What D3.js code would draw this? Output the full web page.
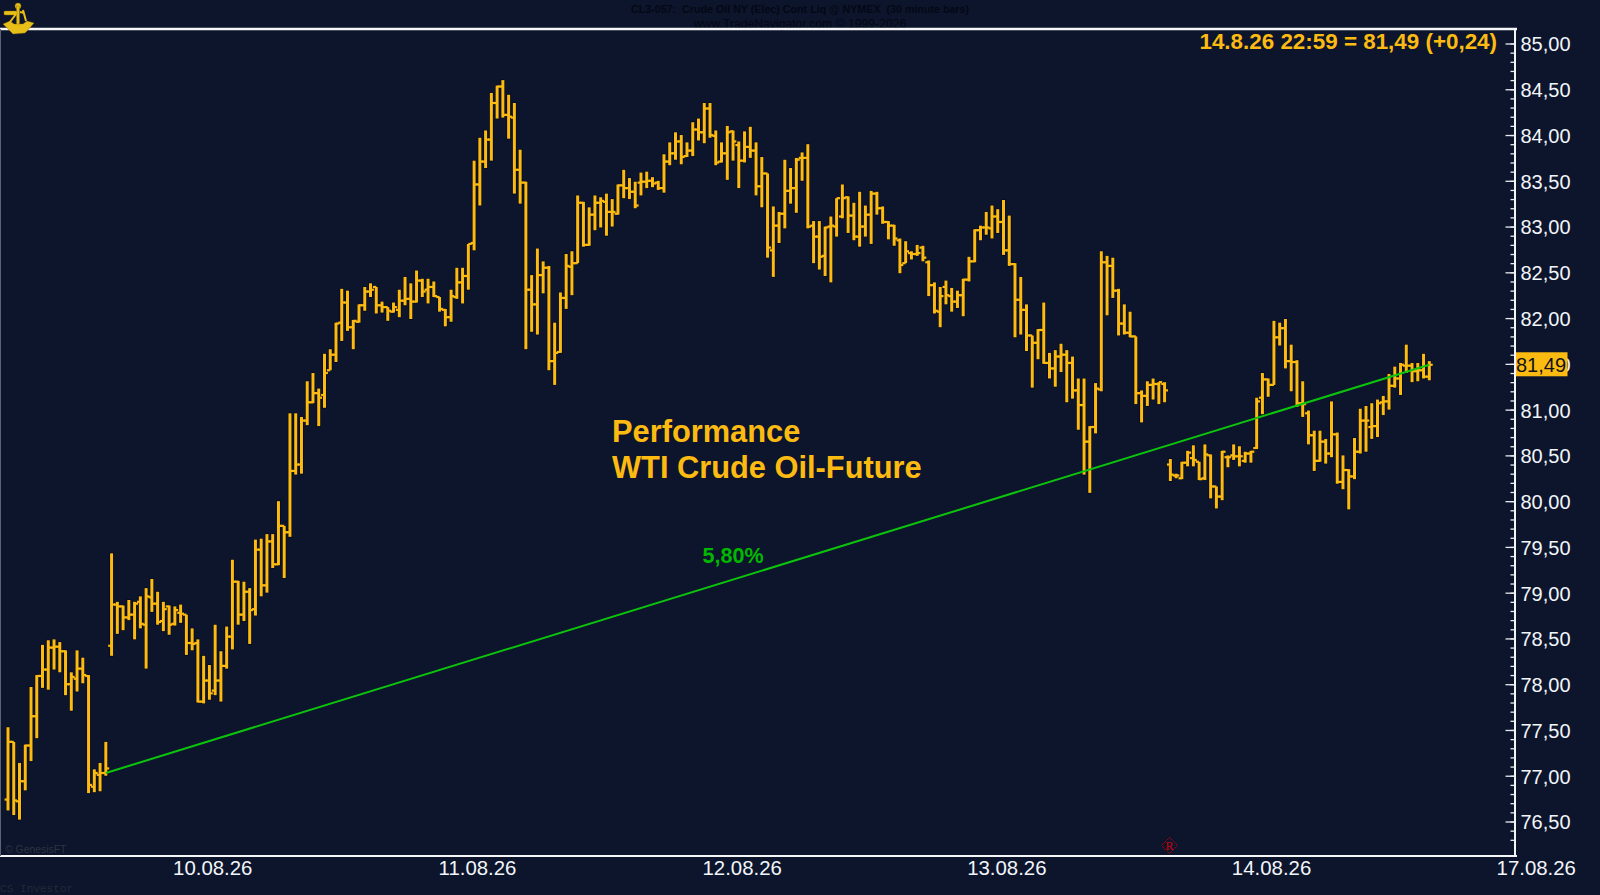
<!DOCTYPE html>
<html>
<head>
<meta charset="utf-8">
<title>WTI Crude Oil-Future</title>
<script src="https://cdn.jsdelivr.net/npm/d3@7"></script>
<style>
    html, body { margin: 0; padding: 0; background: #0c152c; overflow: hidden; }
    svg { display: block; }
    text { font-family: "Liberation Sans", Arial, sans-serif; }
</style>
</head>
<body>
<div id="chart"></div>
<script>
// 30 minute bars
const highs = [
    77.53,77.37,77.14,77.34,77.97,78.10,78.43,78.48,78.49,78.46,
    78.37,78.13,78.37,78.29,78.10,77.07,77.14,77.37,79.43,78.90,
    78.86,78.92,78.90,78.96,79.05,79.15,79.01,78.90,78.86,78.85,
    78.87,78.76,78.61,78.49,78.31,78.21,78.65,78.36,78.63,79.36,
    79.13,79.12,79.05,79.58,79.59,79.64,79.64,80.00,79.73,80.96,
    80.96,80.92,81.31,81.40,81.23,81.61,81.66,81.95,82.32,82.30,
    81.98,82.15,82.34,82.38,82.34,82.18,82.12,82.17,82.31,82.45,
    82.38,82.52,82.43,82.43,82.40,82.23,82.10,82.31,82.55,82.55,
    82.81,83.72,83.97,84.05,84.46,84.54,84.60,84.44,84.35,83.84,
    83.49,82.47,82.76,82.62,82.57,81.95,82.28,82.70,82.73,83.34,
    83.27,83.21,83.34,83.32,83.36,83.30,83.46,83.62,83.53,83.49,
    83.59,83.60,83.54,83.50,83.79,83.92,84.03,84.00,83.92,84.14,
    84.18,84.35,84.35,84.05,83.92,84.10,84.05,83.93,84.04,84.09,
    83.92,83.76,83.58,83.22,83.16,83.73,83.64,83.75,83.81,83.90,
    83.06,83.06,83.00,83.11,83.31,83.46,83.33,83.26,83.38,83.23,
    83.39,83.38,83.22,83.06,83.02,82.87,82.84,82.73,82.80,82.79,
    82.63,82.39,82.34,82.41,82.33,82.30,82.43,82.67,82.97,83.01,
    83.16,83.23,83.19,83.29,83.12,82.60,82.45,82.15,81.81,81.88,
    82.17,81.62,81.65,81.72,81.65,81.58,81.34,81.34,80.82,81.29,
    82.73,82.68,82.66,82.32,82.15,82.07,81.80,81.21,81.31,81.34,
    81.30,81.30,80.46,80.30,80.43,80.55,80.61,80.43,80.62,80.51,
    80.16,80.55,80.50,80.62,80.60,80.54,80.55,81.13,81.40,81.34,
    81.97,81.95,81.99,81.71,81.54,81.31,80.99,80.77,80.77,80.68,
    81.09,80.75,80.50,80.35,80.69,81.01,81.04,81.07,81.11,81.15,
    81.39,81.47,81.51,81.71,81.51,81.51,81.61,81.53
];
const lows = [
    76.62,76.57,76.52,76.84,77.16,77.41,77.96,77.94,78.16,78.13,
    77.88,77.71,77.92,78.01,76.81,76.82,76.83,77.00,78.31,78.55,
    78.59,78.70,78.49,78.61,78.17,78.79,78.65,78.58,78.54,78.64,
    78.67,78.32,78.37,77.80,77.79,77.83,77.88,77.81,78.17,78.38,
    78.65,78.69,78.44,78.75,78.96,79.00,79.27,79.30,79.16,79.61,
    80.29,80.30,80.83,81.07,80.82,81.02,81.43,81.52,81.75,81.86,
    81.66,81.95,82.08,82.23,82.05,82.06,81.97,82.06,82.01,82.14,
    81.99,82.17,82.23,82.16,82.23,82.07,81.91,81.96,82.21,82.16,
    82.31,82.74,83.23,83.64,83.72,84.18,84.19,83.96,83.36,83.25,
    81.66,81.85,81.82,82.27,81.43,81.27,81.62,82.10,82.25,82.60,
    82.78,82.79,82.96,82.99,82.90,83.00,83.13,83.31,83.30,83.20,
    83.34,83.42,83.43,83.40,83.37,83.67,83.73,83.68,83.76,83.77,
    83.94,83.91,83.97,83.67,83.70,83.51,83.72,83.42,83.70,83.75,
    83.34,83.21,82.66,82.45,82.82,82.98,83.25,83.15,83.50,82.98,
    82.60,82.53,82.46,82.39,82.89,83.09,82.93,82.85,82.78,82.89,
    82.81,83.13,83.03,82.86,82.79,82.49,82.60,82.64,82.68,82.62,
    82.24,82.05,81.90,82.15,82.07,82.11,82.02,82.40,82.61,82.85,
    82.91,82.87,82.93,82.69,82.57,81.79,81.82,81.64,81.24,81.55,
    81.50,81.34,81.25,81.41,81.08,81.12,80.78,80.29,80.09,80.74,
    81.20,82.03,82.22,81.81,81.82,81.79,81.06,80.86,81.04,81.11,
    81.06,81.08,80.22,80.25,80.24,80.38,80.38,80.23,80.23,80.03,
    79.92,80.01,80.37,80.45,80.38,80.42,80.42,80.57,80.95,81.14,
    81.27,81.70,81.45,81.20,81.03,80.92,80.62,80.33,80.43,80.41,
    80.48,80.19,80.13,79.91,80.24,80.52,80.54,80.68,80.70,80.94,
    81.00,81.24,81.16,81.40,81.30,81.31,81.34,81.32
];
const opens = [
    76.74,77.37,76.72,76.94,77.33,77.65,78.09,78.16,78.40,78.41,
    78.36,78.00,78.06,78.17,78.09,76.88,77.01,77.03,78.42,78.87,
    78.85,78.73,78.76,78.90,78.65,78.95,78.88,78.69,78.85,78.66,
    78.78,78.76,78.45,78.45,77.81,78.04,77.93,78.04,78.20,78.52,
    79.12,78.76,79.01,78.82,79.47,79.08,79.56,79.31,79.73,79.66,
    80.33,80.40,80.88,81.08,81.18,81.16,81.43,81.60,81.95,82.17,
    81.90,81.96,82.14,82.29,82.34,82.14,82.12,82.07,82.09,82.19,
    82.21,82.18,82.41,82.31,82.34,82.23,82.09,82.01,82.23,82.39,
    82.46,82.82,83.46,83.71,83.95,84.35,84.53,84.22,84.19,83.62,
    83.48,82.31,82.15,82.47,82.55,81.53,81.63,82.22,82.56,82.60,
    83.26,82.80,83.13,83.26,83.27,83.16,83.14,83.45,83.42,83.38,
    83.48,83.49,83.50,83.48,83.42,83.71,83.80,83.93,83.77,83.83,
    84.06,84.03,84.29,83.99,83.71,83.80,84.04,83.89,83.72,83.87,
    83.83,83.44,83.58,82.74,83.01,83.14,83.39,83.42,83.75,83.75,
    83.01,82.89,82.68,83.00,83.00,83.11,83.32,83.12,82.89,83.00,
    83.13,83.36,83.20,83.05,83.01,82.85,82.60,82.71,82.70,82.77,
    82.61,82.36,82.07,82.34,82.24,82.18,82.25,82.42,82.62,82.96,
    82.99,82.98,83.11,83.05,82.74,82.59,82.20,82.09,81.81,81.73,
    81.87,81.51,81.45,81.58,81.60,81.51,81.21,81.05,80.65,80.81,
    81.22,82.61,82.57,82.30,81.94,81.84,81.80,81.18,81.15,81.27,
    81.28,81.28,80.40,80.28,80.25,80.42,80.47,80.43,80.25,80.50,
    80.16,80.05,80.48,80.50,80.49,80.44,80.52,80.58,81.13,81.33,
    81.27,81.79,81.89,81.53,81.52,81.07,80.96,80.72,80.44,80.65,
    80.52,80.73,80.21,80.34,80.27,80.54,80.88,80.81,80.82,81.08,
    81.09,81.26,81.34,81.48,81.48,81.42,81.43,81.36
];
const closes = [
    77.37,76.73,76.94,77.33,77.65,78.09,78.16,78.40,78.41,78.36,
    78.00,78.08,78.17,78.10,76.90,77.03,77.03,77.08,78.87,78.85,
    78.73,78.76,78.88,78.66,78.96,78.88,78.68,78.82,78.65,78.81,
    78.77,78.45,78.44,77.81,78.04,77.90,78.04,78.20,78.52,79.12,
    78.76,79.01,78.81,79.47,79.08,79.56,79.31,79.73,79.66,80.33,
    80.40,80.88,81.08,81.18,81.13,81.40,81.60,81.94,82.17,81.90,
    81.97,82.14,82.29,82.31,82.14,82.12,82.08,82.12,82.19,82.21,
    82.18,82.41,82.29,82.34,82.24,82.10,82.01,82.24,82.39,82.46,
    82.81,83.46,83.71,83.95,84.35,84.53,84.22,84.20,83.62,83.48,
    82.31,82.15,82.47,82.55,81.53,81.62,82.22,82.57,82.60,83.26,
    82.80,83.13,83.26,83.28,83.16,83.16,83.45,83.42,83.38,83.23,
    83.49,83.50,83.47,83.42,83.71,83.80,83.93,83.76,83.83,84.06,
    84.03,84.29,84.00,83.70,83.80,84.03,83.93,83.72,83.87,83.83,
    83.44,83.58,82.77,83.01,83.14,83.39,83.42,83.73,83.75,83.00,
    82.89,82.67,82.99,83.01,83.31,83.31,83.12,82.89,83.00,83.13,
    83.36,83.20,83.05,83.01,82.87,82.58,82.73,82.70,82.71,82.66,
    82.36,82.08,82.24,82.25,82.18,82.25,82.42,82.62,82.96,82.99,
    82.99,83.11,83.05,82.74,82.59,82.20,82.09,81.81,81.73,81.87,
    81.51,81.45,81.58,81.60,81.51,81.21,81.05,80.65,80.81,81.23,
    82.61,82.57,82.30,81.94,81.84,81.80,81.18,81.15,81.27,81.28,
    81.30,81.21,80.29,80.28,80.42,80.53,80.45,80.24,80.51,80.16,
    80.05,80.54,80.48,80.49,80.49,80.52,80.54,81.09,81.33,81.27,
    81.79,81.89,81.53,81.52,81.07,81.06,80.72,80.44,80.65,80.52,
    80.73,80.21,80.34,80.27,80.54,80.88,80.88,80.82,81.07,81.09,
    81.26,81.34,81.49,81.48,81.42,81.43,81.36,81.49
];

// Date labels sit between bars, one trading day is 46 bars
const dateLabels = ["10.08.26", "11.08.26", "12.08.26", "13.08.26", "14.08.26", "17.08.26"];
const dateBars = [35.5, 81.5, 127.5, 173.5, 219.5, 265.5];

// Price axis
const majorTicks = [76.5, 77, 77.5, 78, 78.5, 79, 79.5, 80, 80.5, 81, 81.5, 82, 82.5, 83, 83.5, 84, 84.5, 85];
const minorTicks = d3.range(763, 851).map(d => d / 10);

// Performance line: from bar, at price, to bar, at price
const trendBars = [17, 247];
const trendPrices = [77.03, 81.49];
const trendLabel = "5,80%";
const trendLabelBar = 126;
const trendLabelPrice = 79.5;

const lastPrice = 81.49;
const lastLabel = "14.8.26 22:59 = 81,49 (+0,24)";
const titleLines = ["Performance", "WTI Crude Oil-Future"];

const width = 1600;
const height = 895;
const background = "#0c152c";
const gold = "#fdbb12";

const svg = d3.select("#chart")
    .append("svg")
    .attr("width", width)
    .attr("height", height);

svg.append("rect")
    .attr("width", width)
    .attr("height", height)
    .attr("fill", background);

const x = d3.scaleLinear().domain([0, 247]).range([8, 1429.3]);
const y = d3.scaleLinear().domain([76.5, 85]).range([821.5, 43.5]);

const frame = { left: 1, top: 29, right: 1515, bottom: 856 };

// Faint header text, mostly lost against the background
svg.append("text")
    .attr("x", 800).attr("y", 12.5)
    .attr("text-anchor", "middle")
    .attr("font-size", 10.7)
    .attr("font-weight", "bold")
    .attr("fill", "#040814")
    .attr("xml:space", "preserve")
    .text("CL3-057:  Crude Oil NY (Elec) Cont Liq @ NYMEX  (30 minute bars)");

svg.append("text")
    .attr("x", 800).attr("y", 27.5)
    .attr("text-anchor", "middle")
    .attr("font-size", 12.2)
    .attr("fill", "#040814")
    .text("www.TradeNavigator.com \u00a9 1999-2026");

// Frame
svg.append("line")
    .attr("x1", 0).attr("x2", frame.right + 2)
    .attr("y1", frame.top).attr("y2", frame.top)
    .attr("stroke", "#f4f6f8").attr("stroke-width", 2.5);
svg.append("line")
    .attr("x1", 0).attr("x2", frame.right + 2)
    .attr("y1", frame.bottom).attr("y2", frame.bottom)
    .attr("stroke", "#f4f6f8").attr("stroke-width", 2);
svg.append("line")
    .attr("x1", frame.right).attr("x2", frame.right)
    .attr("y1", frame.top).attr("y2", frame.bottom)
    .attr("stroke", "#f4f6f8").attr("stroke-width", 2);
svg.append("line")
    .attr("x1", 0.5).attr("x2", 0.5)
    .attr("y1", frame.top).attr("y2", frame.bottom)
    .attr("stroke", "#5c6474").attr("stroke-width", 1);

// Axes
const minorAxis = d3.axisRight(y)
    .tickValues(minorTicks)
    .tickSize(-4)
    .tickFormat("");
const majorAxis = d3.axisRight(y)
    .tickValues(majorTicks)
    .tickSize(-9)
    .tickPadding(6)
    .tickFormat(d => d3.format(".2f")(d).replace(".", ","));

const axisRight = svg.append("g").attr("transform", `translate(${frame.right - 0.5},0)`);
axisRight.append("g").call(minorAxis);
axisRight.append("g").call(majorAxis);
axisRight.selectAll(".domain").remove();
axisRight.selectAll("line").attr("stroke", "#e8ebf0").attr("stroke-width", 1.3);
axisRight.selectAll("text")
    .attr("y", 1)
    .attr("fill", "#f2f5fa")
    .attr("font-size", 20)
    .attr("font-family", '"Liberation Sans", Arial, sans-serif');

const dateAxis = d3.axisBottom(x)
    .tickValues(dateBars)
    .tickSize(0)
    .tickPadding(0)
    .tickFormat((d, i) => dateLabels[i]);

const axisBottom = svg.append("g").attr("transform", `translate(0,${frame.bottom})`).call(dateAxis);
axisBottom.select(".domain").remove();
axisBottom.selectAll("text")
    .attr("y", 5)
    .attr("fill", "#f2f5fa")
    .attr("font-size", 20.4)
    .attr("font-family", '"Liberation Sans", Arial, sans-serif');

// Price bars
const bars = d3.range(highs.length).map(i => ({
    i: i, high: highs[i], low: lows[i], open: opens[i], close: closes[i]
}));

const barGroups = svg.append("g")
    .selectAll("g")
    .data(bars)
    .enter().append("g");

barGroups.append("line")
    .attr("x1", d => x(d.i)).attr("x2", d => x(d.i))
    .attr("y1", d => y(d.high) - 0.6).attr("y2", d => y(d.low) + 0.6)
    .attr("stroke", "#04081a").attr("stroke-width", 4.2);

barGroups.append("line")
    .attr("x1", d => x(d.i) - 3.4).attr("x2", d => x(d.i))
    .attr("y1", d => y(d.open)).attr("y2", d => y(d.open))
    .attr("stroke", gold).attr("stroke-width", 2.2);

barGroups.append("line")
    .attr("x1", d => x(d.i)).attr("x2", d => x(d.i) + 3.4)
    .attr("y1", d => y(d.close)).attr("y2", d => y(d.close))
    .attr("stroke", gold).attr("stroke-width", 2.2);

barGroups.append("line")
    .attr("x1", d => x(d.i)).attr("x2", d => x(d.i))
    .attr("y1", d => y(d.high)).attr("y2", d => y(d.low))
    .attr("stroke", gold).attr("stroke-width", 3);

// Performance line
const trendLine = d3.line()
    .x(d => x(d[0]))
    .y(d => y(d[1]));

svg.append("path")
    .attr("d", trendLine(d3.zip(trendBars, trendPrices)))
    .attr("fill", "none")
    .attr("stroke", "#0cc40c")
    .attr("stroke-width", 2);

svg.append("text")
    .attr("x", x(trendLabelBar))
    .attr("y", y(trendLabelPrice) + 16)
    .attr("text-anchor", "middle")
    .attr("font-size", 21.5)
    .attr("font-weight", "bold")
    .attr("fill", "#00b800")
    .text(trendLabel);

// Headline texts
svg.selectAll(".title")
    .data(titleLines)
    .enter().append("text")
    .attr("class", "title")
    .attr("x", 612)
    .attr("y", (d, i) => 442 + i * 35.5)
    .attr("font-size", 30.8)
    .attr("font-weight", "bold")
    .attr("fill", gold)
    .text(d => d);

svg.append("text")
    .attr("x", 1497).attr("y", 49)
    .attr("text-anchor", "end")
    .attr("font-size", 22.4)
    .attr("font-weight", "bold")
    .attr("fill", gold)
    .text(lastLabel);

// Last price tag, covers the 81,50 label
svg.append("rect")
    .attr("x", frame.right + 1)
    .attr("y", y(lastPrice) - 12.5)
    .attr("width", 51.5)
    .attr("height", 24)
    .attr("fill", gold);

svg.append("text")
    .attr("x", frame.right + 1)
    .attr("y", y(lastPrice) + 7)
    .attr("font-size", 20)
    .attr("fill", "#10131c")
    .text(d3.format(".2f")(lastPrice).replace(".", ","));

// Small marks in the corners
svg.append("text")
    .attr("x", 5).attr("y", 853)
    .attr("font-size", 10.4)
    .attr("fill", "#2c3342")
    .text("\u00a9 GenesisFT");

svg.append("text")
    .attr("x", 0).attr("y", 892)
    .attr("font-size", 11.1)
    .style("font-family", '"Liberation Mono", monospace')
    .attr("fill", "#232938")
    .text("CS Investor");

const marker = svg.append("g").attr("transform", "translate(1169.5,845.5)");
marker.append("path")
    .attr("d", "M0,-8L8,0L0,8L-8,0Z")
    .attr("fill", "none")
    .attr("stroke", "#c00008")
    .attr("stroke-width", 1)
    .attr("stroke-dasharray", "1.5,0.8");
marker.append("text")
    .attr("y", 4.5)
    .attr("text-anchor", "middle")
    .attr("font-size", 12)
    .style("font-family", '"Liberation Serif", serif')
    .attr("fill", "#d00008")
    .text("R");

// Sextant logo at the top left
const logo = svg.append("g")
    .attr("fill", "#e8bf18")
    .attr("stroke", "#8a6a08")
    .attr("stroke-width", 0.4);
logo.append("circle").attr("cx", 18).attr("cy", 6).attr("r", 3);
logo.append("rect").attr("x", 16.5).attr("y", 6).attr("width", 3).attr("height", 22);
logo.append("rect").attr("x", 4).attr("y", 11).attr("width", 13).attr("height", 4).attr("rx", 1);
logo.append("path")
    .attr("d", "M3,24 L10,21 L14,24 L23,24 L27,21 L34,23 L28,30 L25,33 L13,34 L9,30 Z");
logo.append("path")
    .attr("d", "M10,22 L16,14 M26,21 L23,10 M20,12 L24,13")
    .attr("fill", "none")
    .attr("stroke", "#e8bf18")
    .attr("stroke-width", 2);
</script>
</body>
</html>
